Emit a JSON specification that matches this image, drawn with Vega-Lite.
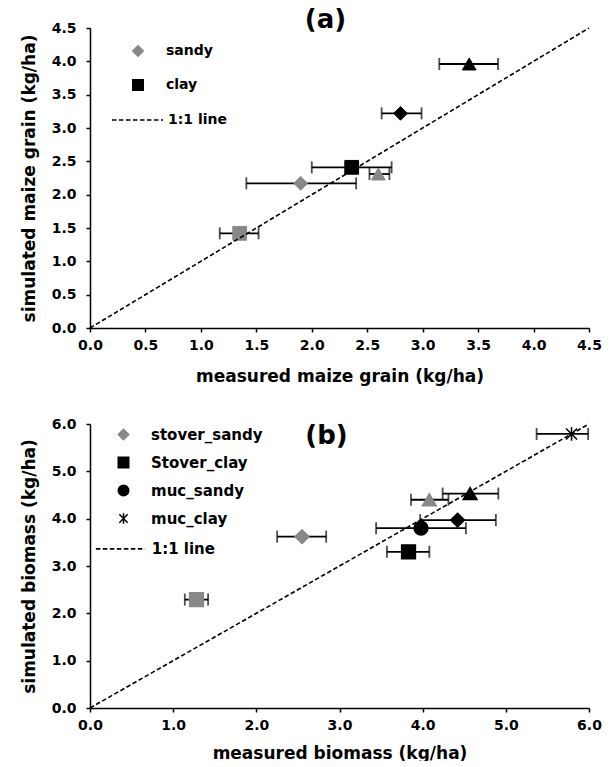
{
  "$schema": "https://vega.github.io/schema/vega-lite/v6.json",
  "padding": {"top": 7, "left": 20, "right": 5, "bottom": 0},
  "background": "white",
  "datasets": {
    "pts": [
      {"panel": "a", "series": "sandy", "measured": 1.9, "simulated": 2.17, "lo": 1.41, "hi": 2.4},
      {"panel": "a", "series": "clay", "measured": 2.36, "simulated": 2.41, "lo": 2.0, "hi": 2.72},
      {"panel": "a", "series": "sandy_2", "measured": 1.35, "simulated": 1.42, "lo": 1.17, "hi": 1.52},
      {"panel": "a", "series": "clay_2", "measured": 2.8, "simulated": 3.22, "lo": 2.63, "hi": 2.99},
      {"panel": "a", "series": "sandy_3", "measured": 2.6, "simulated": 2.31, "lo": 2.52, "hi": 2.7},
      {"panel": "a", "series": "clay_3", "measured": 3.42, "simulated": 3.96, "lo": 3.15, "hi": 3.68},
      {"panel": "b", "series": "stover_sandy", "measured": 2.55, "simulated": 3.62, "lo": 2.25, "hi": 2.84},
      {"panel": "b", "series": "Stover_clay", "measured": 3.83, "simulated": 3.3, "lo": 3.57, "hi": 4.08},
      {"panel": "b", "series": "muc_sandy", "measured": 3.98, "simulated": 3.8, "lo": 3.44, "hi": 4.52},
      {"panel": "b", "series": "muc_clay", "measured": 5.79, "simulated": 5.79, "lo": 5.37, "hi": 5.99},
      {"panel": "b", "series": "sandy_sq", "measured": 1.28, "simulated": 2.29, "lo": 1.14, "hi": 1.42},
      {"panel": "b", "series": "sandy_tri", "measured": 4.08, "simulated": 4.4, "lo": 3.86, "hi": 4.31},
      {"panel": "b", "series": "clay_dia", "measured": 4.42, "simulated": 3.97, "lo": 3.97, "hi": 4.88},
      {"panel": "b", "series": "clay_tri", "measured": 4.57, "simulated": 4.53, "lo": 4.24, "hi": 4.91}
    ],
    "lineA": [
      {"measured": 0, "simulated": 0, "lab": "1:1 line"},
      {"measured": 4.5, "simulated": 4.5, "lab": "1:1 line"}
    ],
    "lineB": [
      {"measured": 0, "simulated": 0, "lab": "1:1 line"},
      {"measured": 6, "simulated": 6, "lab": "1:1 line"}
    ]
  },
  "vconcat": [
    {
      "width": 499,
      "height": 300,
      "title": {"text": "(a)", "fontSize": 26, "font": "DejaVu Sans", "fontWeight": "bold", "color": "black", "anchor": "middle", "dx": -14, "offset": -12, "frame": "group"},
      "encoding": {
        "y": {"field": "simulated", "type": "quantitative", "scale": {"domain": [0, 4.5]}, "axis": {"title": "simulated maize grain (kg/ha)", "values": [0, 0.5, 1, 1.5, 2, 2.5, 3, 3.5, 4, 4.5], "format": ".1f", "labelOverlap": false}}
      },
      "layer": [
        {
          "data": {"name": "pts"},
          "transform": [{"filter": "datum.panel === 'a'"}],
          "mark": {"type": "rule", "color": "black", "strokeWidth": 1.8},
          "encoding": {
            "x": {"field": "lo", "type": "quantitative", "scale": {"domain": [0, 4.5]}, "axis": {"title": "measured maize grain (kg/ha)", "values": [0, 0.5, 1, 1.5, 2, 2.5, 3, 3.5, 4, 4.5], "format": ".1f"}},
            "x2": {"field": "hi"}
          }
        },
        {
          "data": {"name": "pts"},
          "transform": [{"filter": "datum.panel === 'a'"}],
          "mark": {"type": "tick", "orient": "vertical", "color": "black", "size": 12, "thickness": 1.8},
          "encoding": {"x": {"field": "lo", "type": "quantitative"}}
        },
        {
          "data": {"name": "pts"},
          "transform": [{"filter": "datum.panel === 'a'"}],
          "mark": {"type": "tick", "orient": "vertical", "color": "black", "size": 12, "thickness": 1.8},
          "encoding": {"x": {"field": "hi", "type": "quantitative"}}
        },
        {
          "data": {"name": "pts"},
          "transform": [{"filter": "datum.panel === 'a'"}],
          "mark": {"type": "point", "filled": true, "size": 190, "opacity": 1, "strokeWidth": 1},
          "encoding": {
            "x": {"field": "measured", "type": "quantitative"},
            "shape": {"field": "series", "type": "nominal", "scale": {"domain": ["sandy", "clay", "sandy_2", "clay_2", "sandy_3", "clay_3"], "range": ["diamond", "square", "square", "diamond", "triangle-up", "triangle-up"]},
              "legend": {"values": ["sandy", "clay"], "title": null, "orient": "none", "legendX": 41, "legendY": 16, "labelOffset": 21, "rowPadding": 16, "symbolSize": 110, "labelFontSize": 14}},
            "fill": {"field": "series", "type": "nominal", "scale": {"domain": ["sandy", "clay", "sandy_2", "clay_2", "sandy_3", "clay_3"], "range": ["#888888", "black", "#888888", "black", "#888888", "black"]},
              "legend": {"values": ["sandy", "clay"], "title": null, "orient": "none", "legendX": 41, "legendY": 16, "labelOffset": 21, "rowPadding": 16, "symbolSize": 110, "labelFontSize": 14}},
            "stroke": {"field": "series", "type": "nominal", "scale": {"domain": ["sandy", "clay", "sandy_2", "clay_2", "sandy_3", "clay_3"], "range": ["#888888", "black", "#888888", "black", "#888888", "black"]},
              "legend": {"values": ["sandy", "clay"], "title": null, "orient": "none", "legendX": 41, "legendY": 16, "labelOffset": 21, "rowPadding": 16, "symbolSize": 110, "labelFontSize": 14}}
          }
        },
        {
          "data": {"name": "lineA"},
          "mark": {"type": "line", "color": "black", "strokeWidth": 1.6},
          "encoding": {
            "x": {"field": "measured", "type": "quantitative"},
            "strokeDash": {"field": "lab", "type": "nominal", "scale": {"domain": ["1:1 line"], "range": [[4.5, 2.5]]},
              "legend": {"title": null, "orient": "none", "legendX": 21, "legendY": 65.5, "symbolType": "stroke", "symbolSize": 2601, "symbolStrokeColor": "black", "symbolStrokeWidth": 1.6, "labelOffset": 4, "labelFontSize": 14}}
          }
        }
      ]
    },
    {
      "width": 499,
      "height": 284,
      "title": {"text": "(b)", "fontSize": 26, "font": "DejaVu Sans", "fontWeight": "bold", "color": "black", "anchor": "middle", "dx": -13, "offset": -32, "frame": "group"},
      "encoding": {
        "y": {"field": "simulated", "type": "quantitative", "scale": {"domain": [0, 6]}, "axis": {"title": "simulated biomass (kg/ha)", "values": [0, 1, 2, 3, 4, 5, 6], "format": ".1f", "labelOverlap": false}}
      },
      "layer": [
        {
          "data": {"name": "pts"},
          "transform": [{"filter": "datum.panel === 'b'"}],
          "mark": {"type": "rule", "color": "black", "strokeWidth": 1.8},
          "encoding": {
            "x": {"field": "lo", "type": "quantitative", "scale": {"domain": [0, 6]}, "axis": {"title": "measured biomass (kg/ha)", "values": [0, 1, 2, 3, 4, 5, 6], "format": ".1f", "titlePadding": 13}},
            "x2": {"field": "hi"}
          }
        },
        {
          "data": {"name": "pts"},
          "transform": [{"filter": "datum.panel === 'b'"}],
          "mark": {"type": "tick", "orient": "vertical", "color": "black", "size": 12, "thickness": 1.8},
          "encoding": {"x": {"field": "lo", "type": "quantitative"}}
        },
        {
          "data": {"name": "pts"},
          "transform": [{"filter": "datum.panel === 'b'"}],
          "mark": {"type": "tick", "orient": "vertical", "color": "black", "size": 12, "thickness": 1.8},
          "encoding": {"x": {"field": "hi", "type": "quantitative"}}
        },
        {
          "data": {"name": "pts"},
          "transform": [{"filter": "datum.panel === 'b'"}],
          "mark": {"type": "point", "filled": true, "size": 190, "opacity": 1, "strokeWidth": 1.5},
          "encoding": {
            "x": {"field": "measured", "type": "quantitative"},
            "shape": {"field": "series", "type": "nominal", "scale": {"domain": ["stover_sandy", "Stover_clay", "muc_sandy", "muc_clay", "sandy_sq", "sandy_tri", "clay_dia", "clay_tri"], "range": ["diamond", "square", "circle", "M0,-1V1M-0.8,-0.8L0.8,0.8M-0.8,0.8L0.8,-0.8", "square", "triangle-up", "diamond", "triangle-up"]},
              "legend": {"values": ["stover_sandy", "Stover_clay", "muc_sandy", "muc_clay"], "title": null, "orient": "none", "legendX": 26, "legendY": 3, "labelOffset": 20, "rowPadding": 11, "symbolSize": 110, "labelFontSize": 15}},
            "fill": {"field": "series", "type": "nominal", "scale": {"domain": ["stover_sandy", "Stover_clay", "muc_sandy", "muc_clay", "sandy_sq", "sandy_tri", "clay_dia", "clay_tri"], "range": ["#888888", "black", "black", "black", "#888888", "#888888", "black", "black"]},
              "legend": {"values": ["stover_sandy", "Stover_clay", "muc_sandy", "muc_clay"], "title": null, "orient": "none", "legendX": 26, "legendY": 3, "labelOffset": 20, "rowPadding": 11, "symbolSize": 110, "labelFontSize": 15}},
            "stroke": {"field": "series", "type": "nominal", "scale": {"domain": ["stover_sandy", "Stover_clay", "muc_sandy", "muc_clay", "sandy_sq", "sandy_tri", "clay_dia", "clay_tri"], "range": ["#888888", "black", "black", "black", "#888888", "#888888", "black", "black"]},
              "legend": {"values": ["stover_sandy", "Stover_clay", "muc_sandy", "muc_clay"], "title": null, "orient": "none", "legendX": 26, "legendY": 3, "labelOffset": 20, "rowPadding": 11, "symbolSize": 110, "labelFontSize": 15}}
          }
        },
        {
          "data": {"name": "lineB"},
          "mark": {"type": "line", "color": "black", "strokeWidth": 1.6},
          "encoding": {
            "x": {"field": "measured", "type": "quantitative"},
            "strokeDash": {"field": "lab", "type": "nominal", "scale": {"domain": ["1:1 line"], "range": [[4.5, 2.5]]},
              "legend": {"title": null, "orient": "none", "legendX": 5, "legendY": 99.4, "symbolType": "stroke", "symbolSize": 2430, "symbolStrokeColor": "black", "symbolStrokeWidth": 1.6, "labelOffset": 5.7, "labelFontSize": 15}}
          }
        }
      ]
    }
  ],
  "spacing": 33,
  "resolve": {
    "scale": {"shape": "independent", "fill": "independent", "stroke": "independent", "strokeDash": "independent"},
    "legend": {"shape": "independent", "fill": "independent", "stroke": "independent", "strokeDash": "independent"}
  },
  "config": {
    "view": {"stroke": null},
    "font": "DejaVu Sans",
    "axis": {
      "labelFont": "DejaVu Sans", "labelFontWeight": "bold", "labelFontSize": 14, "labelColor": "black",
      "titleFont": "DejaVu Sans", "titleFontWeight": "bold", "titleFontSize": 17, "titleColor": "black",
      "domainColor": "black", "domainWidth": 1.5, "tickColor": "black", "tickWidth": 1.5, "tickSize": 4, "grid": false,
      "labelOverlap": false, "labelFlush": false
    },
    "axisY": {"labelPadding": 10, "titlePadding": 13},
    "axisX": {"labelPadding": 6, "titlePadding": 16},
    "legend": {"labelFont": "DejaVu Sans", "labelFontWeight": "bold", "labelColor": "black", "padding": 0, "symbolStrokeWidth": 1.5}
  }
}
